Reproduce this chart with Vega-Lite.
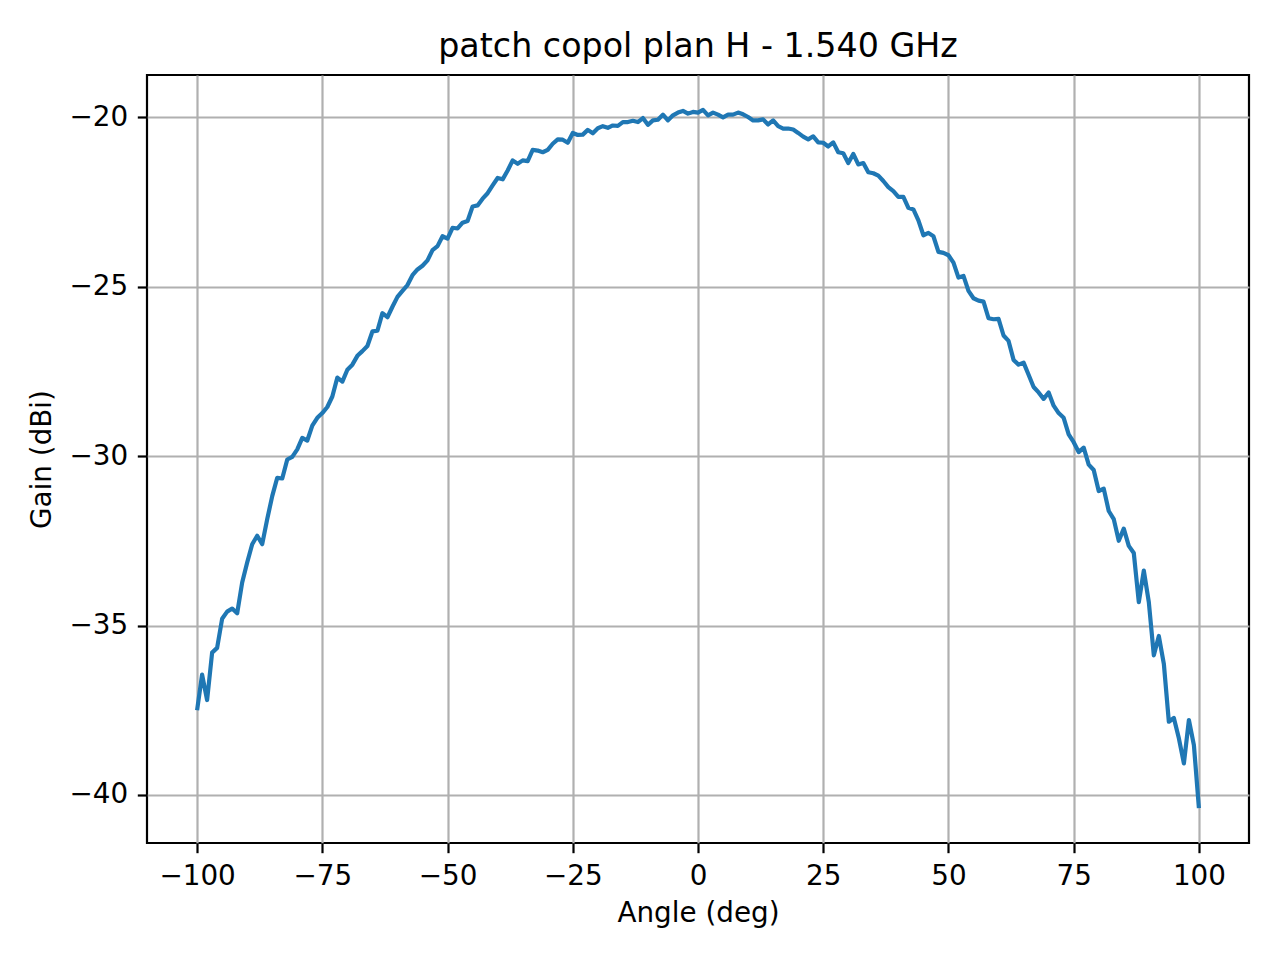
{
  "$schema": "https://vega.github.io/schema/vega-lite/v6.json",
  "description": "patch copol plan H - 1.540 GHz, gain vs angle",
  "autosize": {"type": "none"},
  "padding": {"left": 147, "top": 75, "right": 31, "bottom": 117},
  "width": 1102,
  "height": 768,
  "background": "white",
  "config": {
    "font": "DejaVu Sans",
    "view": {"stroke": "black", "strokeWidth": 2.2},
    "axis": {
      "domain": false,
      "grid": true,
      "gridColor": "#b0b0b0",
      "gridWidth": 2.2,
      "gridOpacity": 1,
      "ticks": true,
      "tickColor": "black",
      "tickSize": 9.7,
      "tickWidth": 2.2,
      "labelFont": "DejaVu Sans",
      "labelFontSize": 27.8,
      "labelColor": "black",
      "labelPadding": 9.7,
      "titleFont": "DejaVu Sans",
      "titleFontSize": 27.8,
      "titleFontWeight": "normal",
      "titleColor": "black"
    }
  },
  "title": {
    "text": "patch copol plan H - 1.540 GHz",
    "font": "DejaVu Sans",
    "fontSize": 33.3,
    "fontWeight": "normal",
    "color": "black",
    "anchor": "middle",
    "frame": "group",
    "baseline": "alphabetic",
    "offset": 19,
    "dy": 34
  },
  "data": {
    "values": [
      {"angle": -100, "gain": -37.5}, {"angle": -99, "gain": -36.45}, {"angle": -98, "gain": -37.2},
      {"angle": -97, "gain": -35.8}, {"angle": -96, "gain": -35.66}, {"angle": -95, "gain": -34.8},
      {"angle": -94, "gain": -34.59}, {"angle": -93, "gain": -34.5}, {"angle": -92, "gain": -34.64},
      {"angle": -91, "gain": -33.73}, {"angle": -90, "gain": -33.14}, {"angle": -89, "gain": -32.6},
      {"angle": -88, "gain": -32.35}, {"angle": -87, "gain": -32.6}, {"angle": -86, "gain": -31.86},
      {"angle": -85, "gain": -31.18}, {"angle": -84, "gain": -30.64}, {"angle": -83, "gain": -30.66},
      {"angle": -82, "gain": -30.1}, {"angle": -81, "gain": -30.02}, {"angle": -80, "gain": -29.8},
      {"angle": -79, "gain": -29.46}, {"angle": -78, "gain": -29.54}, {"angle": -77, "gain": -29.1},
      {"angle": -76, "gain": -28.87}, {"angle": -75, "gain": -28.73}, {"angle": -74, "gain": -28.55},
      {"angle": -73, "gain": -28.24}, {"angle": -72, "gain": -27.68}, {"angle": -71, "gain": -27.8},
      {"angle": -70, "gain": -27.45}, {"angle": -69, "gain": -27.3}, {"angle": -68, "gain": -27.04},
      {"angle": -67, "gain": -26.9}, {"angle": -66, "gain": -26.75}, {"angle": -65, "gain": -26.32},
      {"angle": -64, "gain": -26.3}, {"angle": -63, "gain": -25.78}, {"angle": -62, "gain": -25.9},
      {"angle": -61, "gain": -25.59}, {"angle": -60, "gain": -25.3}, {"angle": -59, "gain": -25.12},
      {"angle": -58, "gain": -24.95}, {"angle": -57, "gain": -24.66}, {"angle": -56, "gain": -24.49},
      {"angle": -55, "gain": -24.38}, {"angle": -54, "gain": -24.22}, {"angle": -53, "gain": -23.92},
      {"angle": -52, "gain": -23.8}, {"angle": -51, "gain": -23.51}, {"angle": -50, "gain": -23.58},
      {"angle": -49, "gain": -23.26}, {"angle": -48, "gain": -23.28}, {"angle": -47, "gain": -23.11},
      {"angle": -46, "gain": -23.06}, {"angle": -45, "gain": -22.63}, {"angle": -44, "gain": -22.6},
      {"angle": -43, "gain": -22.4}, {"angle": -42, "gain": -22.24}, {"angle": -41, "gain": -22.01},
      {"angle": -40, "gain": -21.79}, {"angle": -39, "gain": -21.83}, {"angle": -38, "gain": -21.57},
      {"angle": -37, "gain": -21.27}, {"angle": -36, "gain": -21.37}, {"angle": -35, "gain": -21.27},
      {"angle": -34, "gain": -21.29}, {"angle": -33, "gain": -20.96}, {"angle": -32, "gain": -20.98},
      {"angle": -31, "gain": -21.03}, {"angle": -30, "gain": -20.96}, {"angle": -29, "gain": -20.78},
      {"angle": -28, "gain": -20.65}, {"angle": -27, "gain": -20.66}, {"angle": -26, "gain": -20.75},
      {"angle": -25, "gain": -20.46}, {"angle": -24, "gain": -20.52}, {"angle": -23, "gain": -20.51},
      {"angle": -22, "gain": -20.37}, {"angle": -21, "gain": -20.47}, {"angle": -20, "gain": -20.32},
      {"angle": -19, "gain": -20.26}, {"angle": -18, "gain": -20.31}, {"angle": -17, "gain": -20.24},
      {"angle": -16, "gain": -20.25}, {"angle": -15, "gain": -20.14}, {"angle": -14, "gain": -20.14},
      {"angle": -13, "gain": -20.1}, {"angle": -12, "gain": -20.14}, {"angle": -11, "gain": -20.02},
      {"angle": -10, "gain": -20.22}, {"angle": -9, "gain": -20.09}, {"angle": -8, "gain": -20.07},
      {"angle": -7, "gain": -19.92}, {"angle": -6, "gain": -20.09}, {"angle": -5, "gain": -19.94},
      {"angle": -4, "gain": -19.86}, {"angle": -3, "gain": -19.81}, {"angle": -2, "gain": -19.89},
      {"angle": -1, "gain": -19.84}, {"angle": 0, "gain": -19.86}, {"angle": 1, "gain": -19.78},
      {"angle": 2, "gain": -19.94}, {"angle": 3, "gain": -19.86}, {"angle": 4, "gain": -19.92},
      {"angle": 5, "gain": -20.0}, {"angle": 6, "gain": -19.92}, {"angle": 7, "gain": -19.92},
      {"angle": 8, "gain": -19.86}, {"angle": 9, "gain": -19.91}, {"angle": 10, "gain": -19.99},
      {"angle": 11, "gain": -20.09}, {"angle": 12, "gain": -20.09}, {"angle": 13, "gain": -20.06},
      {"angle": 14, "gain": -20.21}, {"angle": 15, "gain": -20.09}, {"angle": 16, "gain": -20.26},
      {"angle": 17, "gain": -20.33}, {"angle": 18, "gain": -20.33}, {"angle": 19, "gain": -20.36},
      {"angle": 20, "gain": -20.46}, {"angle": 21, "gain": -20.57}, {"angle": 22, "gain": -20.65},
      {"angle": 23, "gain": -20.56}, {"angle": 24, "gain": -20.74}, {"angle": 25, "gain": -20.75},
      {"angle": 26, "gain": -20.86}, {"angle": 27, "gain": -20.74}, {"angle": 28, "gain": -21.03},
      {"angle": 29, "gain": -21.06}, {"angle": 30, "gain": -21.35}, {"angle": 31, "gain": -21.08},
      {"angle": 32, "gain": -21.39}, {"angle": 33, "gain": -21.35}, {"angle": 34, "gain": -21.62},
      {"angle": 35, "gain": -21.65}, {"angle": 36, "gain": -21.72}, {"angle": 37, "gain": -21.88},
      {"angle": 38, "gain": -22.06}, {"angle": 39, "gain": -22.18}, {"angle": 40, "gain": -22.35},
      {"angle": 41, "gain": -22.35}, {"angle": 42, "gain": -22.67}, {"angle": 43, "gain": -22.72},
      {"angle": 44, "gain": -23.04}, {"angle": 45, "gain": -23.48}, {"angle": 46, "gain": -23.41},
      {"angle": 47, "gain": -23.51}, {"angle": 48, "gain": -23.97}, {"angle": 49, "gain": -24.0},
      {"angle": 50, "gain": -24.07}, {"angle": 51, "gain": -24.29}, {"angle": 52, "gain": -24.73},
      {"angle": 53, "gain": -24.68}, {"angle": 54, "gain": -25.12}, {"angle": 55, "gain": -25.34},
      {"angle": 56, "gain": -25.41}, {"angle": 57, "gain": -25.44}, {"angle": 58, "gain": -25.93},
      {"angle": 59, "gain": -25.96}, {"angle": 60, "gain": -25.95}, {"angle": 61, "gain": -26.44},
      {"angle": 62, "gain": -26.6}, {"angle": 63, "gain": -27.16}, {"angle": 64, "gain": -27.3},
      {"angle": 65, "gain": -27.24}, {"angle": 66, "gain": -27.6}, {"angle": 67, "gain": -27.96},
      {"angle": 68, "gain": -28.12}, {"angle": 69, "gain": -28.31}, {"angle": 70, "gain": -28.12},
      {"angle": 71, "gain": -28.51}, {"angle": 72, "gain": -28.73}, {"angle": 73, "gain": -28.87},
      {"angle": 74, "gain": -29.36}, {"angle": 75, "gain": -29.59}, {"angle": 76, "gain": -29.88},
      {"angle": 77, "gain": -29.75}, {"angle": 78, "gain": -30.25}, {"angle": 79, "gain": -30.41},
      {"angle": 80, "gain": -31.03}, {"angle": 81, "gain": -30.96}, {"angle": 82, "gain": -31.62},
      {"angle": 83, "gain": -31.86}, {"angle": 84, "gain": -32.5}, {"angle": 85, "gain": -32.14},
      {"angle": 86, "gain": -32.65}, {"angle": 87, "gain": -32.86}, {"angle": 88, "gain": -34.31},
      {"angle": 89, "gain": -33.38}, {"angle": 90, "gain": -34.31}, {"angle": 91, "gain": -35.88},
      {"angle": 92, "gain": -35.31}, {"angle": 93, "gain": -36.13}, {"angle": 94, "gain": -37.84},
      {"angle": 95, "gain": -37.73}, {"angle": 96, "gain": -38.33}, {"angle": 97, "gain": -39.07},
      {"angle": 98, "gain": -37.79}, {"angle": 99, "gain": -38.53}, {"angle": 100, "gain": -40.39}
    ]
  },
  "mark": {"type": "line", "color": "#1f77b4", "strokeWidth": 4.2, "strokeJoin": "round", "strokeCap": "butt"},
  "encoding": {
    "x": {
      "field": "angle",
      "type": "quantitative",
      "title": "Angle (deg)",
      "scale": {"domain": [-110, 110], "nice": false, "zero": false},
      "axis": {"values": [-100, -75, -50, -25, 0, 25, 50, 75, 100], "titlePadding": 9}
    },
    "y": {
      "field": "gain",
      "type": "quantitative",
      "title": "Gain (dBi)",
      "scale": {"domain": [-41.42, -18.75], "nice": false, "zero": false},
      "axis": {"values": [-40, -35, -30, -25, -20], "titlePadding": 12}
    }
  }
}
